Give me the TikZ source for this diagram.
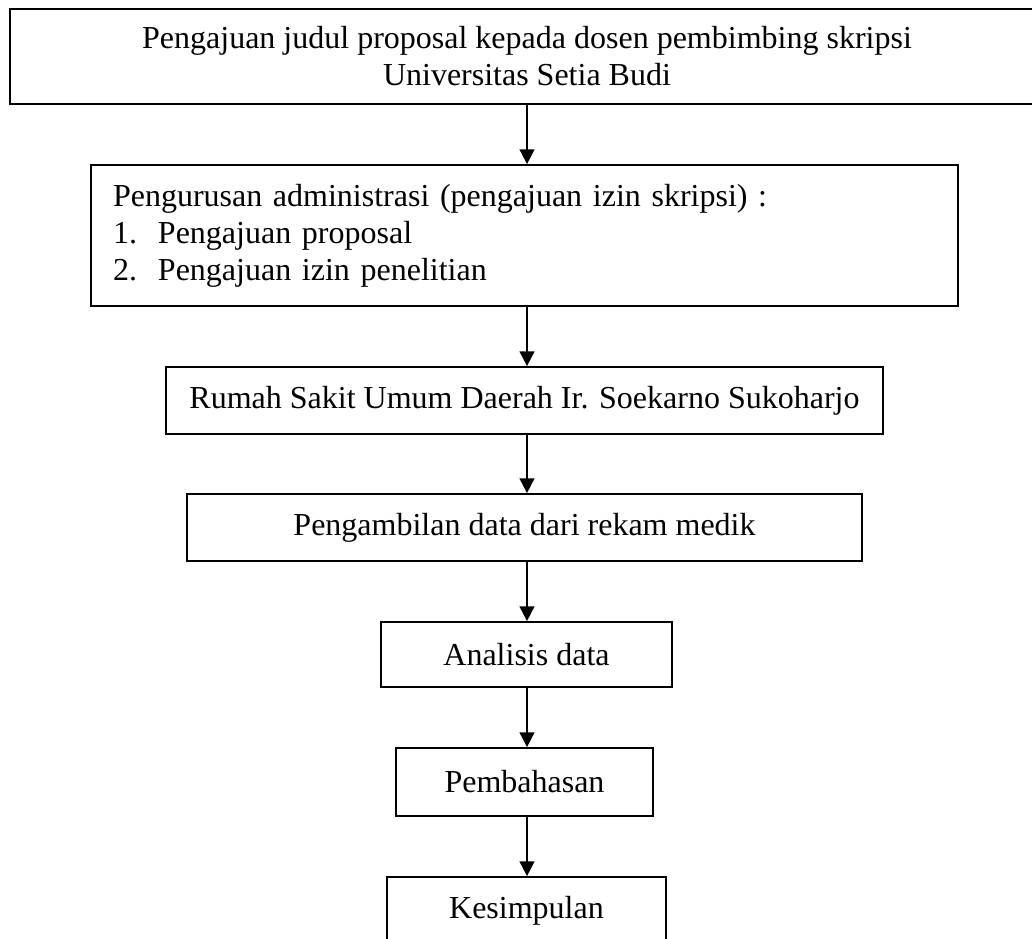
\documentclass[tikz,border=0pt]{standalone}
\usepackage{fontspec}
\setmainfont{Liberation Serif}
\usetikzlibrary{arrows.meta,positioning}

\begin{document}
\begin{tikzpicture}
  [x=0.75pt,y=-0.75pt,every node/.style={draw,rectangle,line width=1.3pt,
   font=\fontsize{24}{27.75}\selectfont,inner sep=0pt}]
  \useasboundingbox (0,0) rectangle (1032,939);
  \node[minimum width=775.5pt,minimum height=71.25pt,align=center] (n1) at (527,56.5)
    {Pengajuan judul proposal kepada dosen pembimbing skripsi\\Universitas Setia Budi};
  \node[minimum width=650.25pt,minimum height=105.75pt,inner xsep=16.5pt,
    text width=617.25pt,align=left] (n2) at (524.5,235.5)
    {Pengurusan administrasi (pengajuan izin skripsi) :\\
     \makebox[33.75pt][l]{1.}Pengajuan proposal\\
     \makebox[33.75pt][l]{2.}Pengajuan izin penelitian};
  \node[minimum width=537.75pt,minimum height=50.25pt] (n3) at (524.5,400.5)
    {Rumah Sakit Umum Daerah Ir. Soekarno Sukoharjo};
  \node[minimum width=506.25pt,minimum height=50.25pt] (n4) at (524.5,527.5)
    {Pengambilan data dari rekam medik};
  \node[minimum width=218.25pt,minimum height=48.75pt] (n5) at (526.5,654.5) {Analisis data};
  \node[minimum width=192.75pt,minimum height=51pt] (n6) at (524.5,782) {Pembahasan};
  \node[minimum width=209.25pt,minimum height=51pt] (n7) at (526.5,911) {Kesimpulan};

  \foreach \from/\to in {n1/n2,n2/n3,n3/n4,n4/n5,n5/n6,n6/n7}
    \draw[-{Triangle[length=11pt,width=11pt]}, line width=1.3pt]
      (\from.south -| n1.south) -- (\to.north -| n1.south);
\end{tikzpicture}
\end{document}
